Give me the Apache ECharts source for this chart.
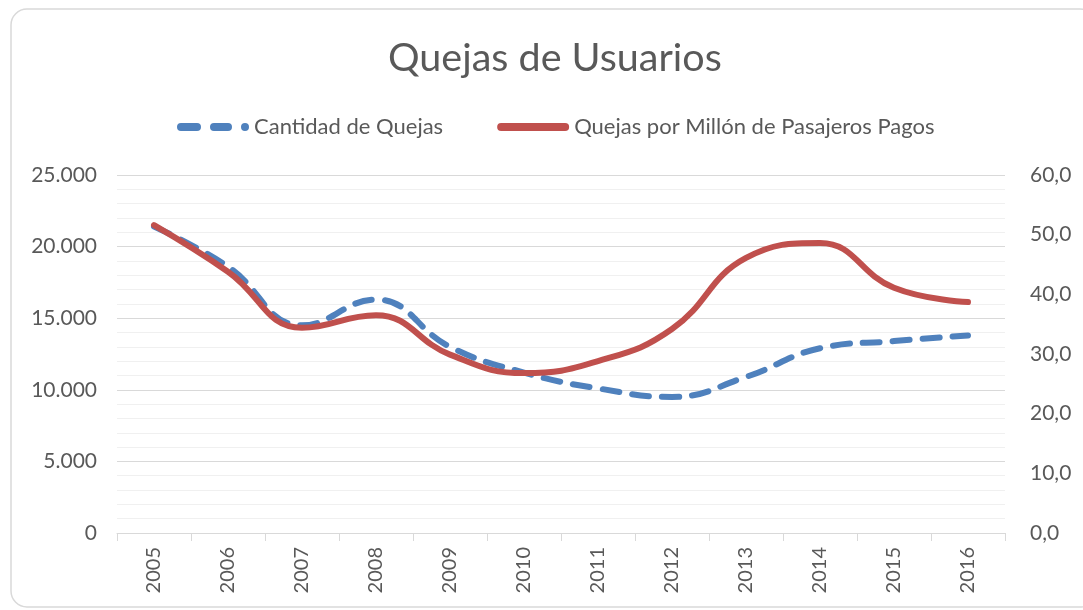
<!DOCTYPE html>
<html>
<head>
<meta charset="utf-8">
<script src="https://cdn.jsdelivr.net/npm/echarts@6/dist/echarts.min.js"></script>
<style>
html,body{margin:0;padding:0;background:#fff;}
#c{width:1083px;height:610px;}
</style>
</head>
<body>
<div id="c"></div>
<script>
const categories = ['2005','2006','2007','2008','2009','2010','2011','2012','2013','2014','2015','2016'];
const cantidadQuejas = [21400, 18600, 14500, 16300, 13000, 11200, 10100, 9500, 10900, 12900, 13400, 13800];
const quejasPorMillon = [51.6, 43.8, 34.4, 36.5, 29.9, 26.8, 28.8, 34.2, 46.1, 48.6, 41.1, 38.7];
const leftTicks = {min: 0, max: 25000, interval: 5000};
const rightTicks = {min: 0, max: 60, interval: 10};

const FONT = 'Lato';
const TXT = '#595959';
const BLUE = '#4f81bd';
const RED = '#c0504d';
const dashIcon = 'path://M4,0 H20 A4,4 0 0 1 20,8 H4 A4,4 0 0 1 4,0 Z M37,0 H51 A4,4 0 0 1 51,8 H37 A4,4 0 0 1 37,0 Z M68,0 A4,4 0 0 1 68,8 A4,4 0 0 1 68,0 Z';
const solidIcon = 'path://M4,0 H68 A4,4 0 0 1 68,8 H4 A4,4 0 0 1 4,0 Z';

const chart = echarts.init(document.getElementById('c'), null, {renderer: 'canvas'});
chart.setOption({
  backgroundColor: '#ffffff',
  animation: false,
  textStyle: {fontFamily: FONT},
  title: {
    text: 'Quejas de Usuarios',
    left: 383,
    top: 33,
    textStyle: {fontFamily: FONT, fontSize: 39.5, fontWeight: 'normal', color: TXT}
  },
  legend: {
    left: 172,
    top: 111,
    itemWidth: 72,
    itemHeight: 8,
    itemGap: 54,
    textStyle: {fontFamily: FONT, fontSize: 22, color: TXT},
    data: [
      {name: 'Cantidad de Quejas', icon: dashIcon, itemStyle: {color: BLUE, borderWidth: 0}},
      {name: 'Quejas por Millón de Pasajeros Pagos', icon: solidIcon, itemStyle: {color: RED, borderWidth: 0}}
    ]
  },
  graphic: [{
    type: 'rect',
    shape: {x: 11, y: 9, width: 1085, height: 598, r: 16},
    style: {fill: 'none', stroke: '#d9d9d9', lineWidth: 1.5},
    silent: true, z: -1
  }],
  grid: {left: 117, right: 78, top: 175, bottom: 77, containLabel: false},
  xAxis: {
    type: 'category',
    data: categories,
    boundaryGap: true,
    axisLine: {lineStyle: {color: '#d9d9d9', width: 1}},
    axisTick: {show: true, length: 8, lineStyle: {color: '#d9d9d9'}},
    axisLabel: {rotate: 90, margin: 14, fontFamily: FONT, fontSize: 20, color: TXT}
  },
  yAxis: [{
    type: 'value',
    min: leftTicks.min, max: leftTicks.max, interval: leftTicks.interval,
    axisLine: {show: false},
    axisTick: {show: false},
    axisLabel: {margin: 20, fontFamily: FONT, fontSize: 21, color: TXT,
      formatter: v => String(v).replace(/\B(?=(\d{3})+(?!\d))/g, '.')},
    splitLine: {show: true, lineStyle: {color: '#d9d9d9', width: 1}},
    minorTick: {show: false, splitNumber: 5},
    minorSplitLine: {show: true, lineStyle: {color: '#f0f0f0', width: 1}}
  }, {
    type: 'value',
    min: rightTicks.min, max: rightTicks.max, interval: rightTicks.interval,
    axisLine: {show: false},
    axisTick: {show: false},
    splitLine: {show: false},
    axisLabel: {margin: 25, fontFamily: FONT, fontSize: 21, color: TXT,
      formatter: v => v.toFixed(1).replace('.', ',')}
  }],
  series: [{
    name: 'Cantidad de Quejas',
    type: 'line',
    yAxisIndex: 0,
    data: cantidadQuejas,
    smooth: 0.45,
    symbol: 'none',
    color: BLUE,
    lineStyle: {color: BLUE, width: 6, type: [17, 13], cap: 'round'}
  }, {
    name: 'Quejas por Millón de Pasajeros Pagos',
    type: 'line',
    yAxisIndex: 1,
    data: quejasPorMillon,
    smooth: 0.45,
    symbol: 'none',
    color: RED,
    lineStyle: {color: RED, width: 6, cap: 'round'},
    z: 3
  }]
});
</script>
</body>
</html>
